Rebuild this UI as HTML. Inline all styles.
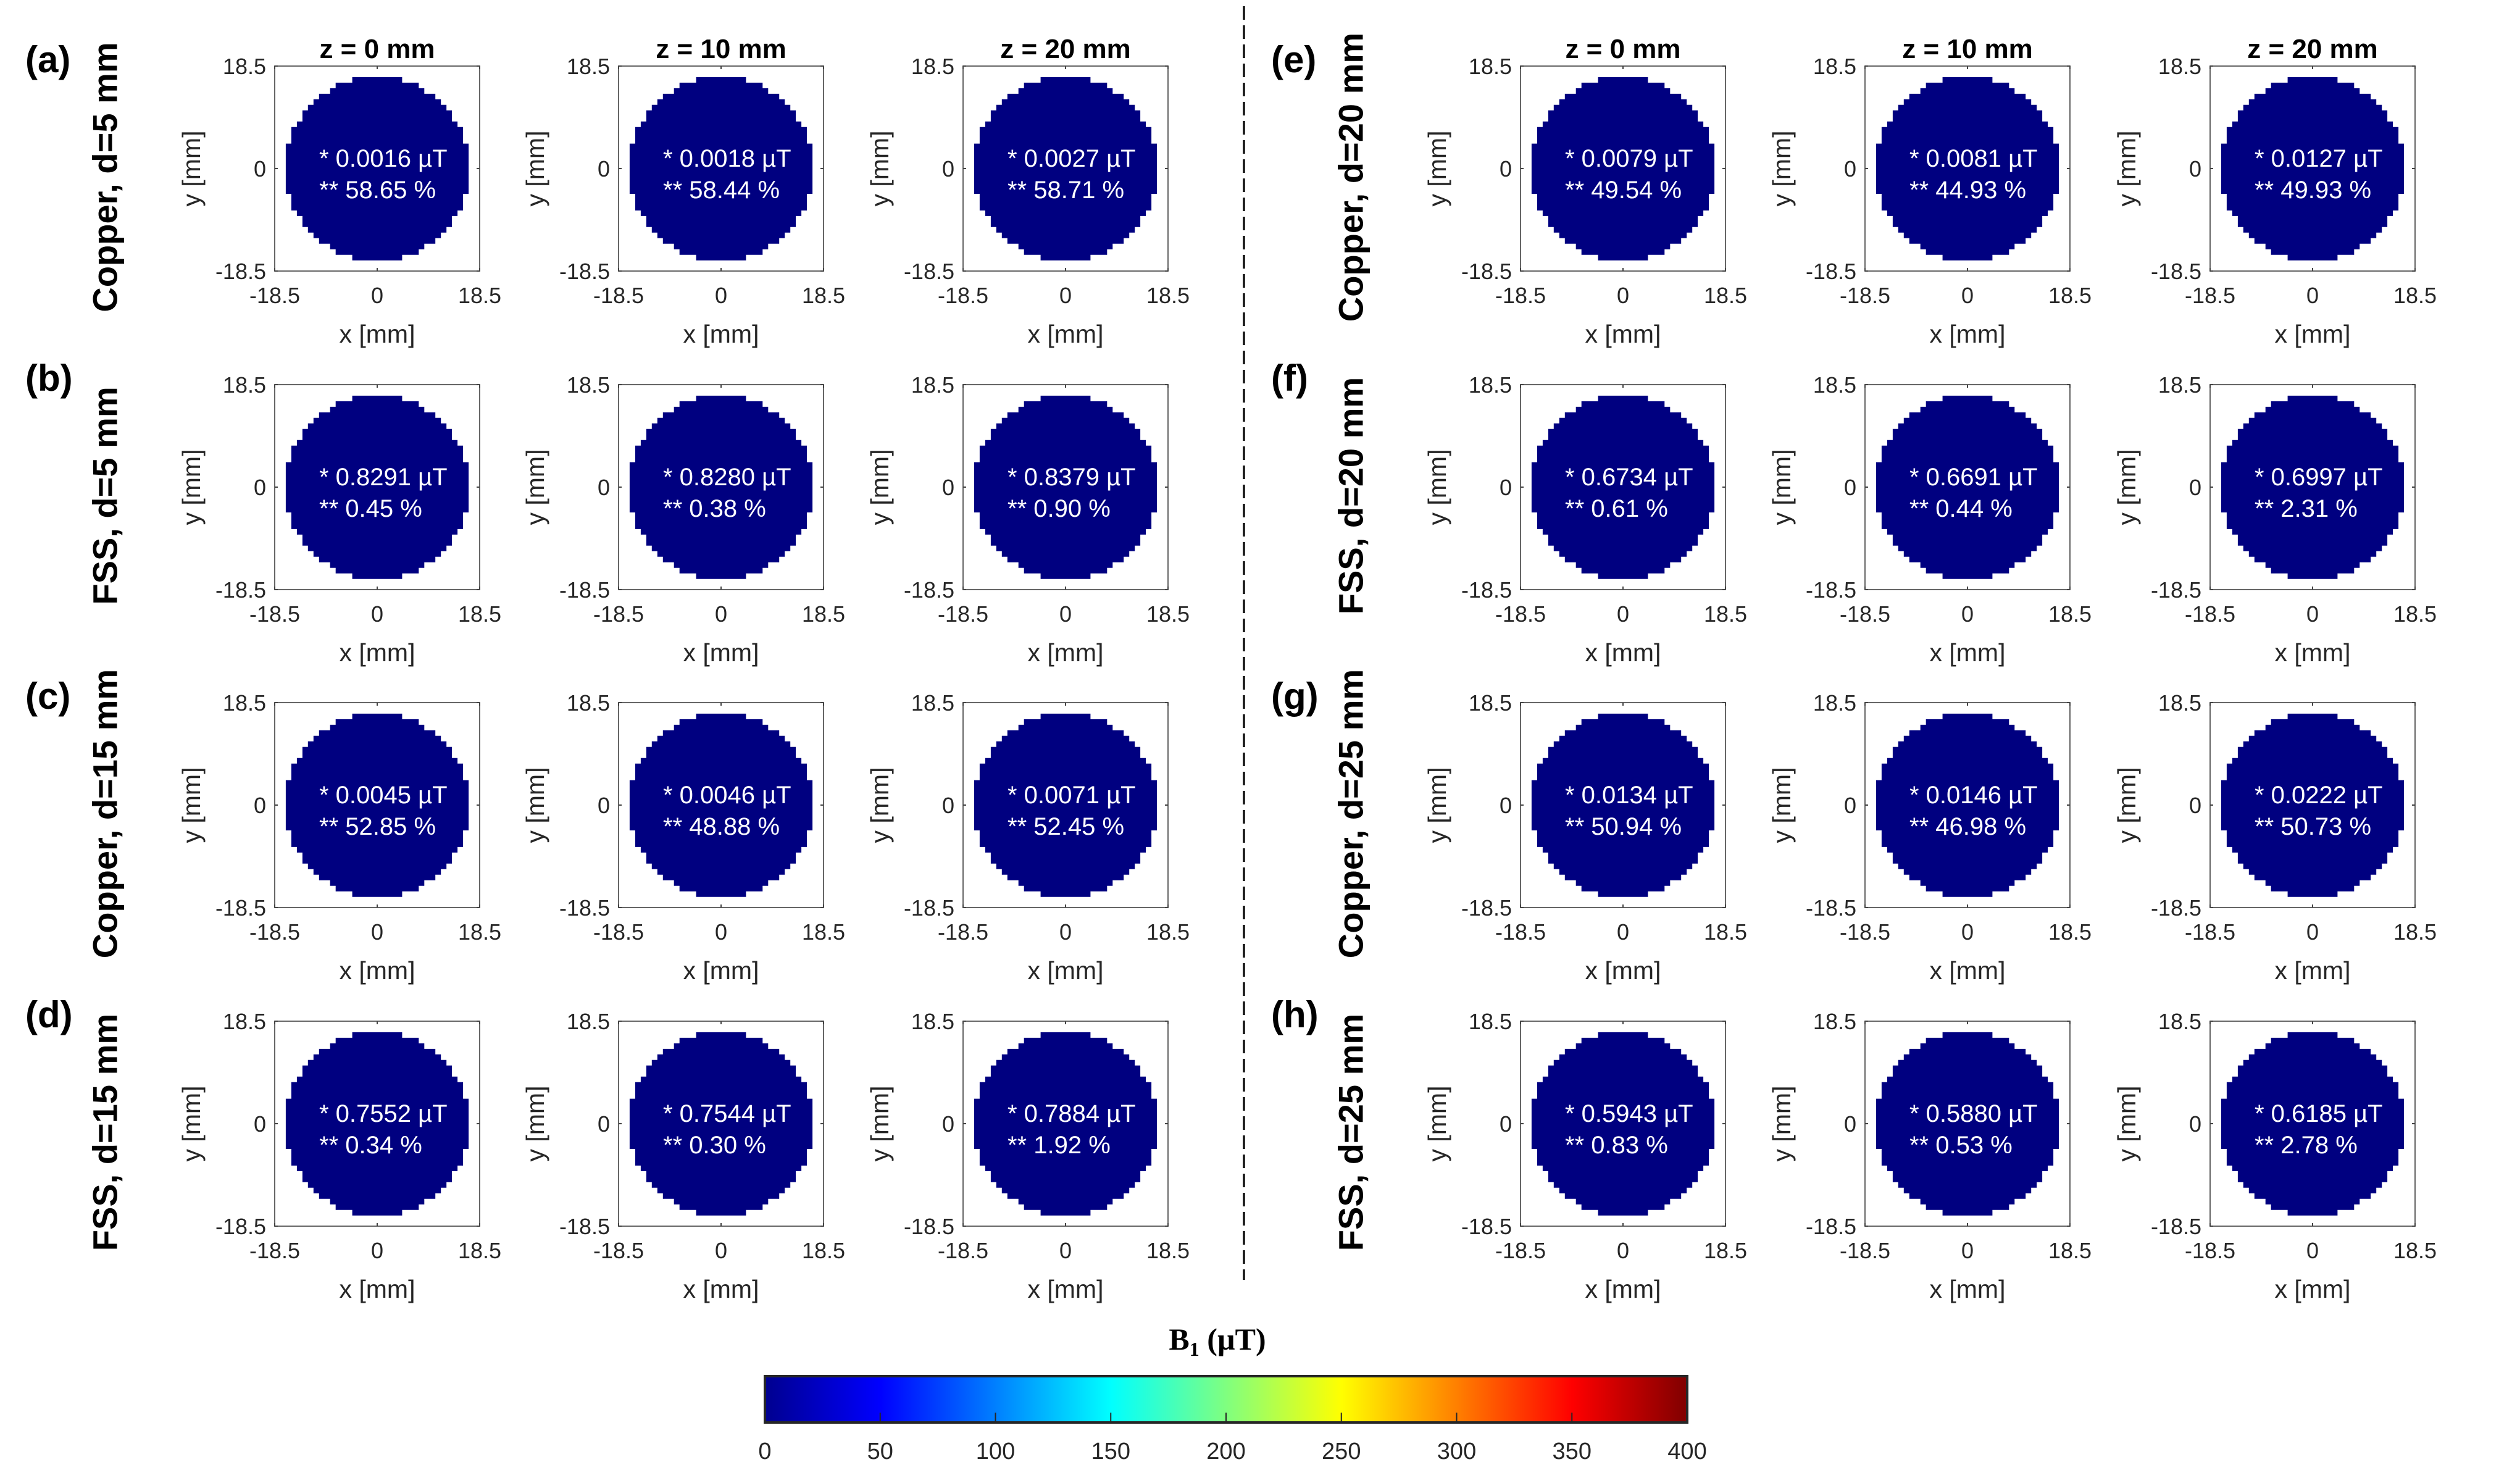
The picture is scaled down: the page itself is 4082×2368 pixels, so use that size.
<!DOCTYPE html>
<html>
<head>
<meta charset="utf-8">
<style>
  html,body{margin:0;padding:0;background:#fff;}
  svg{display:block;}
  text{font-family:"Liberation Sans", sans-serif;}
</style>
</head>
<body>
<svg id="fig" xmlns="http://www.w3.org/2000/svg" width="4082" height="2368" viewBox="0 0 4082 2368">
  <defs>
    <linearGradient id="jet" x1="0" x2="1" y1="0" y2="0">
      <stop offset="0" stop-color="#00008f"/>
      <stop offset="0.125" stop-color="#0000ff"/>
      <stop offset="0.375" stop-color="#00ffff"/>
      <stop offset="0.625" stop-color="#ffff00"/>
      <stop offset="0.875" stop-color="#ff0000"/>
      <stop offset="1" stop-color="#800000"/>
    </linearGradient>
  </defs>
  <line x1="2015" y1="10" x2="2015" y2="2073" stroke="#111" stroke-width="3.5" stroke-dasharray="22,9"/>
</svg>
<script>
// ---- data ----
const zLabels = ["z = 0 mm", "z = 10 mm", "z = 20 mm"];
const panelLetters = ["(a)","(b)","(c)","(d)","(e)","(f)","(g)","(h)"];
const rowLabels = ["Copper, d=5 mm","FSS, d=5 mm","Copper, d=15 mm","FSS, d=15 mm",
                   "Copper, d=20 mm","FSS, d=20 mm","Copper, d=25 mm","FSS, d=25 mm"];
const meanB1 = [
  ["0.0016","0.0018","0.0027"],
  ["0.8291","0.8280","0.8379"],
  ["0.0045","0.0046","0.0071"],
  ["0.7552","0.7544","0.7884"],
  ["0.0079","0.0081","0.0127"],
  ["0.6734","0.6691","0.6997"],
  ["0.0134","0.0146","0.0222"],
  ["0.5943","0.5880","0.6185"]
];
const inhomogeneity = [
  ["58.65","58.44","58.71"],
  ["0.45","0.38","0.90"],
  ["52.85","48.88","52.45"],
  ["0.34","0.30","1.92"],
  ["49.54","44.93","49.93"],
  ["0.61","0.44","2.31"],
  ["50.94","46.98","50.73"],
  ["0.83","0.53","2.78"]
];
const axisTicks = [-18.5, 0, 18.5];
const axisTickLabels = ["-18.5","0","18.5"];
const cbTicks = [0,50,100,150,200,250,300,350,400];
const cbMin = 0, cbMax = 400;

// ---- layout ----
const NS = "http://www.w3.org/2000/svg";
const svg = document.getElementById("fig");
const colLeft = [445,1002,1560,2463,3021,3580];
const rowTop = [107,623,1138,1654];
const BOX = 332;
const MM = 37;
function mk(tag, attrs, parent){
  const e = document.createElementNS(NS, tag);
  for (const k in attrs) e.setAttribute(k, attrs[k]);
  (parent||svg).appendChild(e);
  return e;
}
function txt(s, attrs, parent){ const t = mk("text", attrs, parent); t.textContent = s; return t; }

function circlePath(x0, y0){
  const s = BOX / MM;
  const sx = v => x0 + (v + 18.5) * s;
  const sy = v => y0 + (18.5 - v) * s;
  let d = "";
  for (let y = -16; y <= 16; y++){
    let xm = -1;
    for (let x = 0; x <= 18; x++){ if (x*x + y*y <= 275) xm = x; }
    if (xm < 0) continue;
    const l = sx(-xm - 0.5), r = sx(xm + 0.5), t = sy(y + 0.5), b = sy(y - 0.5);
    d += `M${l.toFixed(1)},${t.toFixed(1)}H${r.toFixed(1)}V${(b+0.6).toFixed(1)}H${l.toFixed(1)}Z`;
  }
  return d;
}

for (let g = 0; g < 2; g++){
  for (let r = 0; r < 4; r++){
    const pi = g*4 + r;
    const top = rowTop[r];
    const firstLeft = colLeft[g*3];
    const letter = txt(panelLetters[pi], {x: firstLeft - 404, y: top + 10, "font-size": 60, "font-weight": "bold", fill: "#000"});
    
    
    const cxL = firstLeft - 275, cyL = top + BOX/2 + 14;
    const rl = txt(rowLabels[pi], {x: cxL, y: cyL, "font-size": 56, "font-weight": "bold", fill: "#000", "text-anchor": "middle", "dominant-baseline": "central", transform: `rotate(-90 ${cxL} ${cyL})`});
    
    
    for (let c = 0; c < 3; c++){
      const L = colLeft[g*3 + c];
      const grp = mk("g", {});
      
      
      const xS = v => L + (v + 18.5) / MM * BOX;
      const yS = v => top + (18.5 - v) / MM * BOX;
      const p = mk("path", {d: circlePath(L, top), fill: "#000080"}, grp);
      
      
      const box = mk("rect", {x: L, y: top, width: BOX, height: BOX, fill: "none", stroke: "#666", "stroke-width": 2}, grp);
      
      
      for (let i = 0; i < axisTicks.length; i++){
        const tx = xS(axisTicks[i]), ty = yS(axisTicks[i]);
        mk("line", {x1: tx, x2: tx, y1: top + BOX, y2: top + BOX - 5, stroke: "#444", "stroke-width": 2}, grp);
        mk("line", {x1: tx, x2: tx, y1: top, y2: top + 5, stroke: "#444", "stroke-width": 2}, grp);
        mk("line", {x1: L, x2: L + 5, y1: ty, y2: ty, stroke: "#444", "stroke-width": 2}, grp);
        mk("line", {x1: L + BOX, x2: L + BOX - 5, y1: ty, y2: ty, stroke: "#444", "stroke-width": 2}, grp);
        const xl = txt(axisTickLabels[i], {x: tx, y: top + BOX + 52, "font-size": 36, fill: "#262626", "text-anchor": "middle"}, grp);
        
        
        const yl = txt(axisTickLabels[i], {x: L - 14, y: ty + 13, "font-size": 36, fill: "#262626", "text-anchor": "end"}, grp);
        
        
      }
      const xt = txt("x [mm]", {x: L + BOX/2, y: top + BOX + 116, "font-size": 41, fill: "#262626", "text-anchor": "middle"}, grp);
      
      
      const ycx = L - 135, ycy = top + BOX/2;
      const yt = txt("y [mm]", {x: ycx, y: ycy, "font-size": 41, fill: "#262626", "text-anchor": "middle", "dominant-baseline": "central", transform: `rotate(-90 ${ycx} ${ycy})`}, grp);
      
      
      const v1 = txt("* " + meanB1[pi][c] + " \u00b5T", {x: L + 72, y: top + 163, "font-size": 40, fill: "#fff"}, grp);
      
      
      const v2 = txt("** " + inhomogeneity[pi][c] + " %", {x: L + 72, y: top + 214, "font-size": 40, fill: "#fff"}, grp);
      
      
      if (r === 0){
        const zt = txt(zLabels[c], {x: L + BOX/2, y: 94, "font-size": 44, "font-weight": "bold", fill: "#000", "text-anchor": "middle"}, grp);
        
        
      }
    }
  }
}

// ---- colorbar ----
const cbL = 1239, cbR = 2733, cbT = 2229, cbB = 2304;
const cbX = v => cbL + (v - cbMin) / (cbMax - cbMin) * (cbR - cbL);
const cb = mk("rect", {x: cbL, y: cbT, width: cbR - cbL, height: cbB - cbT, fill: "url(#jet)", stroke: "#262626", "stroke-width": 4});


for (let i = 0; i < cbTicks.length; i++){
  const x = cbX(cbTicks[i]);
  if (i > 0 && i < cbTicks.length - 1){
    mk("line", {x1: x, x2: x, y1: cbB, y2: cbB - 16, stroke: "#262626", "stroke-width": 2});
  }
  const t = txt(String(cbTicks[i]), {x: x, y: 2363, "font-size": 38, fill: "#262626", "text-anchor": "middle"});
  
  
}
const cbt = mk("text", {x: 1972, y: 2186, "font-size": 50, "font-weight": "bold", fill: "#000", "text-anchor": "middle", style: 'font-family:"Liberation Serif", serif'});
cbt.innerHTML = 'B<tspan font-size="32" dy="10">1</tspan><tspan dy="-10"> (\u00b5T)</tspan>';


</script>
</body>
</html>
